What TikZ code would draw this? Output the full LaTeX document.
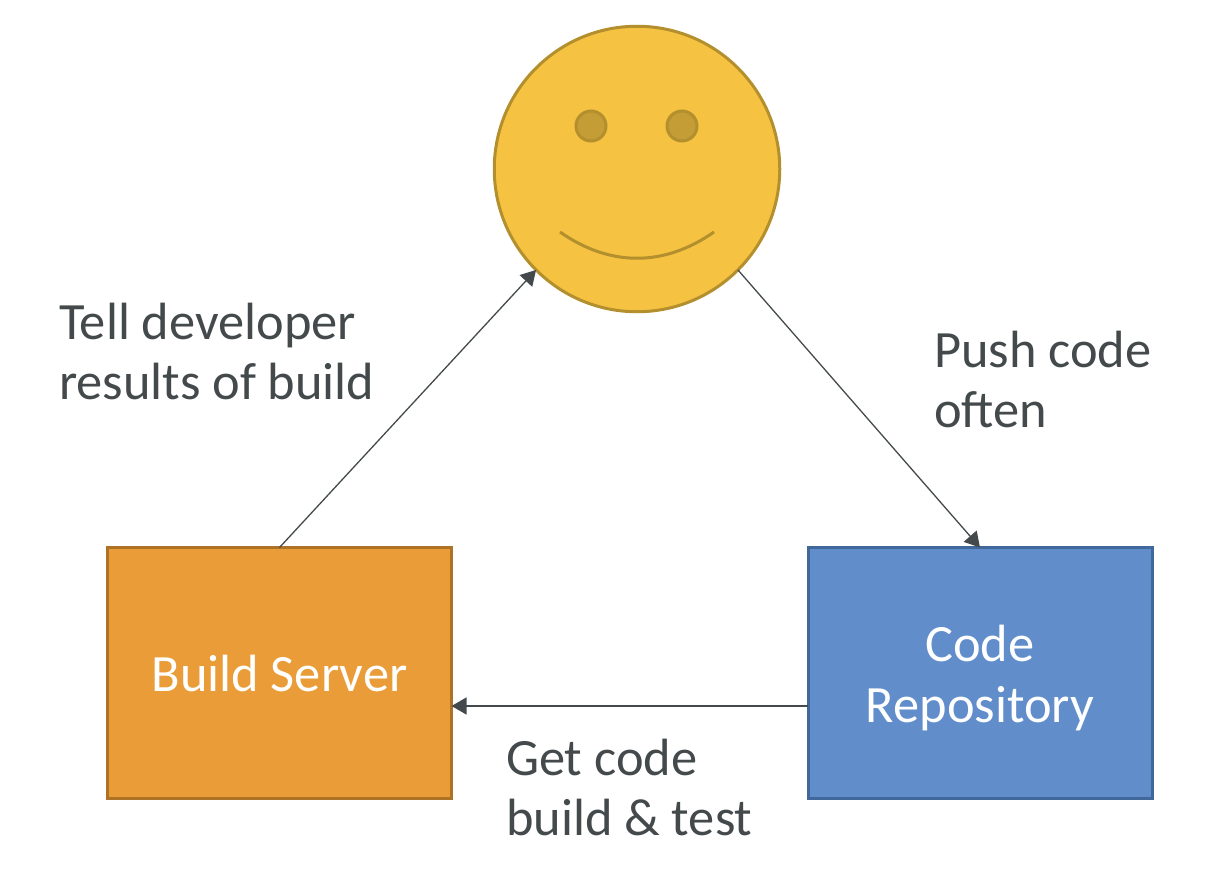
\documentclass[tikz,border=0pt]{standalone}
\usepackage{fontspec}
\setmainfont{Carlito}
\usetikzlibrary{arrows.meta}
\definecolor{txt}{HTML}{444A4C}
\definecolor{faceF}{HTML}{F5C242}
\definecolor{faceD}{HTML}{B38F2E}
\definecolor{eyeF}{HTML}{C49D36}
\definecolor{orF}{HTML}{E99C37}
\definecolor{orD}{HTML}{AE7226}
\definecolor{blF}{HTML}{618ECB}
\definecolor{blD}{HTML}{41689A}
\tikzset{
  x=1pt,y=-1pt,
  boxnode/.style={draw,line width=3pt,minimum width=344pt,minimum height=251pt,outer sep=0pt,inner sep=0pt,text=white,align=center,font=\fontsize{52.4}{60.5}\selectfont},
  lab/.style={text=txt,align=left,anchor=north west,inner sep=0pt,outer sep=0pt,font=\fontsize{52.4}{60.5}\selectfont},
  conn/.style={draw=txt,line width=1.3pt,-{Triangle[length=15pt,width=17pt]}},
  eye/.style={circle,draw=faceD,fill=eyeF,line width=3pt,minimum size=30pt,inner sep=0pt,outer sep=0pt}
}
\begin{document}
\begin{tikzpicture}
\useasboundingbox (0,0) rectangle (1218,888);
\node[circle,draw=faceD,fill=faceF,line width=3pt,minimum size=285.5pt,inner sep=0pt,outer sep=0pt] (face) at (637,169) {};
\node[eye] (eyeL) at (591,126) {};
\node[eye] (eyeR) at (682,126) {};
\coordinate (smileL) at (560,232);
\coordinate (smileR) at (714,232);
\draw[faceD,line width=3pt] (smileL) .. controls (610,267) and (664,267) .. (smileR);
\node[boxnode,fill=orF,draw=orD] (bs) at (279.5,673) {Build Server};
\node[boxnode,fill=blF,draw=blD] (repo) at (980,673) {\rule{0pt}{46pt}Code\\Repository};
\coordinate (ly) at (0,706);
\draw[conn] (bs.north) -- (face.225);
\draw[conn] (face.-45) -- (repo.north);
\draw[conn] (repo.west |- ly) -- (bs.east |- ly);
\node[lab] (t1) at (59,303) {Tell developer\\results of build};
\node[lab] (t2) at (934,331) {Push code\\often};
\node[lab] (t3) at (506,739) {Get code\\build \& test};
\end{tikzpicture}
\end{document}
